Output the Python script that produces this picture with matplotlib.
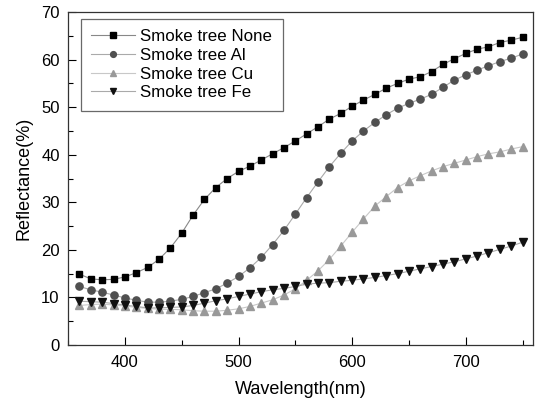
import matplotlib
matplotlib.use("Agg")
import matplotlib.pyplot as plt
from matplotlib.ticker import MultipleLocator

plt.rcParams['font.family'] = ['Liberation Sans', 'DejaVu Sans']

wavelength = list(range(360, 751, 10))
none_vals = [14.9, 13.9, 13.7, 13.8, 14.3, 15.2, 16.3, 18.0, 20.4, 23.5,
             27.3, 30.6, 33.1, 35.0, 36.5, 37.6, 38.9, 40.2, 41.5, 42.9,
             44.4, 45.9, 47.5, 48.7, 50.2, 51.5, 52.7, 54.0, 55.0, 55.9,
             56.4, 57.5, 59.0, 60.2, 61.3, 62.2, 62.7, 63.6, 64.1, 64.7]
al_vals = [12.3, 11.6, 11.1, 10.5, 9.9, 9.4, 9.0, 9.0, 9.2, 9.6,
           10.2, 11.0, 11.8, 13.0, 14.4, 16.2, 18.4, 21.1, 24.1, 27.5,
           31.0, 34.3, 37.5, 40.3, 42.9, 45.0, 46.8, 48.4, 49.8, 50.8,
           51.7, 52.7, 54.2, 55.7, 56.8, 57.8, 58.7, 59.6, 60.3, 61.2]
cu_vals = [8.3, 8.5, 8.6, 8.4, 8.2, 7.9, 7.7, 7.5, 7.5, 7.4,
           7.2, 7.1, 7.1, 7.3, 7.6, 8.1, 8.8, 9.5, 10.5, 11.8,
           13.6, 15.6, 18.0, 20.8, 23.7, 26.5, 29.2, 31.2, 33.1, 34.5,
           35.6, 36.6, 37.5, 38.2, 38.9, 39.6, 40.2, 40.6, 41.2, 41.7]
fe_vals = [9.2, 9.1, 9.0, 8.7, 8.4, 8.1, 7.8, 7.8, 7.9, 8.0,
           8.3, 8.8, 9.3, 9.7, 10.2, 10.7, 11.2, 11.6, 11.9, 12.3,
           12.8, 13.0, 13.1, 13.4, 13.6, 13.9, 14.2, 14.6, 15.0, 15.5,
           16.0, 16.5, 17.0, 17.5, 18.1, 18.7, 19.4, 20.1, 20.8, 21.6]
labels = ["Smoke tree None", "Smoke tree Al", "Smoke tree Cu", "Smoke tree Fe"]

fig = plt.figure(figsize=(5.36, 4.03), dpi=100)
ax = fig.add_axes([0.127, 0.144, 0.867, 0.826])

series = [
    (none_vals, 's', '#000000', '#888888', 4.6),
    (al_vals, 'o', '#505050', '#aaaaaa', 5.2),
    (cu_vals, '^', '#999999', '#c8c8c8', 5.6),
    (fe_vals, 'v', '#111111', '#aaaaaa', 5.6),
]
for (vals, mk, mc, lc, ms), lab in zip(series, labels):
    ax.plot(wavelength, vals, color=lc, lw=0.8, marker=mk, markersize=ms,
            markerfacecolor=mc, markeredgecolor=mc, label=lab)

ax.set_xlim(350, 759)
ax.set_ylim(0, 70)
ax.xaxis.set_major_locator(MultipleLocator(100))
ax.xaxis.set_minor_locator(MultipleLocator(50))
ax.yaxis.set_major_locator(MultipleLocator(10))
ax.yaxis.set_minor_locator(MultipleLocator(5))
ax.tick_params(which='both', direction='in', top=False, right=False, labelsize=12, width=0.8)
ax.tick_params(axis='x', which='major', pad=7)
ax.tick_params(axis='y', which='major', pad=6)
ax.tick_params(which='major', length=6)
ax.tick_params(which='minor', length=3.5)
for s in ax.spines.values():
    s.set_linewidth(0.9)
    s.set_color('#333333')

ax.set_xlabel("Wavelength(nm)", fontsize=13, labelpad=8)
ax.set_ylabel("Reflectance(%)", fontsize=13, labelpad=6)

leg = ax.legend(loc='upper left', bbox_to_anchor=(0.028, 0.979), fontsize=12.2,
                frameon=True, fancybox=False, edgecolor='#444444',
                handlelength=2.6, handletextpad=0.3, borderpad=0.6,
                labelspacing=0.22, borderaxespad=0, markerscale=0.8)
leg.get_frame().set_linewidth(0.9)

fig.savefig("out.png", dpi=100)
